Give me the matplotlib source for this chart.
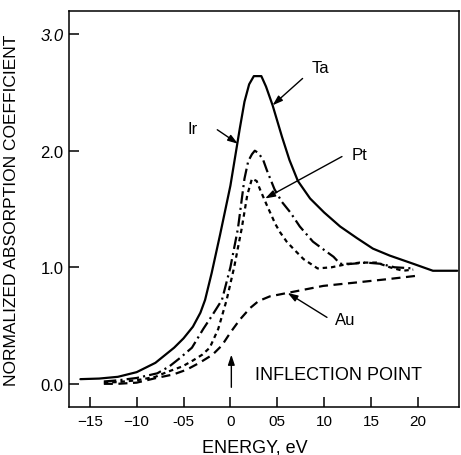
"""XANES L3-edge absorption: Ta, Ir, Pt, Au, normalized, vs energy."""

import matplotlib
matplotlib.use('Agg')

import matplotlib.pyplot as plt

plt.rcParams['font.family'] = ['Liberation Sans', 'DejaVu Sans']
plt.rcParams['lines.scale_dashes'] = False

# ── Data ──────────────────────────────────────────────────────────────────────
ta_x = [-16, -14, -12, -10, -8, -6, -5, -4, -3.2, -2.7, -2, -1.1, 0, 1.0, 1.5,
        2.0, 2.5, 3.3, 3.8, 4.5, 5.5, 6.3, 7.2, 8.5, 10, 11.7, 13.5, 15.2, 17,
        19.5, 21.6, 24.2]
ta_y = [0.04, 0.045, 0.06, 0.1, 0.18, 0.31, 0.39, 0.49, 0.61, 0.72, 0.95, 1.28,
        1.7, 2.19, 2.42, 2.57, 2.64, 2.64, 2.55, 2.39, 2.12, 1.92, 1.74, 1.59,
        1.47, 1.35, 1.25, 1.16, 1.1, 1.03, 0.97, 0.97]

ir_x = [-13.5, -12, -10, -7.8, -6.5, -5.4, -4.1, -2.9, -2, -0.9, 0, 0.8, 1.5,
        1.9, 2.3, 2.6, 3.0, 3.5, 3.9, 4.7, 5.5, 6.4, 7.4, 8.8, 9.8, 11, 11.7,
        13, 14.5, 16, 17.5, 19.5]
ir_y = [0.02, 0.03, 0.05, 0.09, 0.15, 0.22, 0.31, 0.47, 0.58, 0.72, 1.0, 1.33,
        1.76, 1.91, 1.97, 2.0, 1.98, 1.92, 1.83, 1.67, 1.56, 1.47, 1.35, 1.22,
        1.16, 1.09, 1.03, 1.03, 1.04, 1.03, 1.0, 0.99]

pt_x = [-13.5, -12, -10, -8, -6.8, -5.1, -4, -3, -2.2, -1.3, -0.4, 0.4, 1.2,
        1.8, 2.3, 2.8, 3.2, 3.9, 4.8, 5.3, 6.0, 6.7, 7.8, 9.3, 10.8, 12, 13.8,
        15.6, 17, 18.4, 19.5]
pt_y = [0.01, 0.015, 0.03, 0.06, 0.1, 0.15, 0.2, 0.25, 0.31, 0.47, 0.72, 1.0,
        1.33, 1.62, 1.76, 1.74, 1.66, 1.53, 1.37, 1.3, 1.22, 1.16, 1.07, 0.99,
        1.0, 1.02, 1.04, 1.04, 1.0, 0.97, 0.98]

au_x = [-13.5, -12, -10, -7.9, -6.1, -4.7, -3.3, -1.9, -0.9, 0, 1, 2.1, 3, 4.2,
        6.1, 8, 9.9, 13.5, 17, 20.2]
au_y = [0.0, 0.0, 0.01, 0.05, 0.08, 0.12, 0.18, 0.25, 0.33, 0.44, 0.55, 0.65,
        0.71, 0.75, 0.78, 0.81, 0.84, 0.87, 0.9, 0.93]

x_ticks = [-15, -10, -5, 0, 5, 10, 15, 20]
x_ticklabels = ['\u221215', '\u221210', '-05', '0', '05', '10', '15', '20']
y_ticks = [0.0, 1.0, 2.0, 3.0]
y_ticklabels = ['0.0', '1.0', '2.0', '3.0']

# ── Figure ────────────────────────────────────────────────────────────────────
fig = plt.figure(figsize=(4.61, 4.56), dpi=100)
ax = fig.add_axes([0.150, 0.105, 0.846, 0.869])

ax.plot(ta_x, ta_y, color='black', lw=1.6, solid_capstyle='round')
ax.plot(ir_x, ir_y, color='black', lw=1.6, dashes=(9, 3, 1.5, 3))
ax.plot(pt_x, pt_y, color='black', lw=1.6, dashes=(3.2, 2.8))
ax.plot(au_x, au_y, color='black', lw=1.6, dashes=(6.5, 4))

ax.set_xlim(-17.2, 24.4)
ax.set_ylim(-0.2, 3.2)

ax.set_xticks(x_ticks)
ax.set_xticklabels(x_ticklabels, fontsize=11)
ax.set_yticks(y_ticks)
ax.set_yticklabels(y_ticklabels, fontsize=12)
ax.get_yticklabels()[-1].set_style('italic')
ax.tick_params(direction='in', length=7, width=1.1, color='black')
ax.tick_params(axis='x', pad=5)
ax.tick_params(axis='y', pad=4)
for sp in ax.spines.values():
    sp.set_linewidth(1.1)

ax.set_xlabel('ENERGY, eV', fontsize=13)
ax.xaxis.set_label_coords(0.477, -0.078)
ax.set_ylabel('NORMALIZED ABSORPTION COEFFICIENT', fontsize=12.5)
ax.yaxis.set_label_coords(-0.128, 0.5)

# ── Curve labels + arrows ─────────────────────────────────────────────────────
arrow = dict(arrowstyle='-|>,head_length=0.6,head_width=0.2', color='black',
             lw=1.0, shrinkA=0, shrinkB=0)
labels = [
    ('Ta', (9.6, 2.71), (7.7, 2.62), (4.5, 2.39)),
    ('Ir', (-4.0, 2.19), (-1.4, 2.18), (0.8, 2.06)),
    ('Pt', (13.8, 1.97), (11.9, 1.95), (3.7, 1.59)),
    ('Au', (12.2, 0.55), (10.3, 0.57), (6.1, 0.78)),
]
for name, txt_pos, start, tip in labels:
    ax.text(*txt_pos, name, fontsize=12, ha='center', va='center')
    ax.annotate('', xy=tip, xytext=start, arrowprops=arrow)

ax.text(2.6, 0.08, 'INFLECTION POINT', fontsize=13, ha='left', va='center')
ax.annotate('', xy=(0.1, 0.25), xytext=(0.1, -0.03), arrowprops=arrow)

fig.savefig('out.png', dpi=100)
